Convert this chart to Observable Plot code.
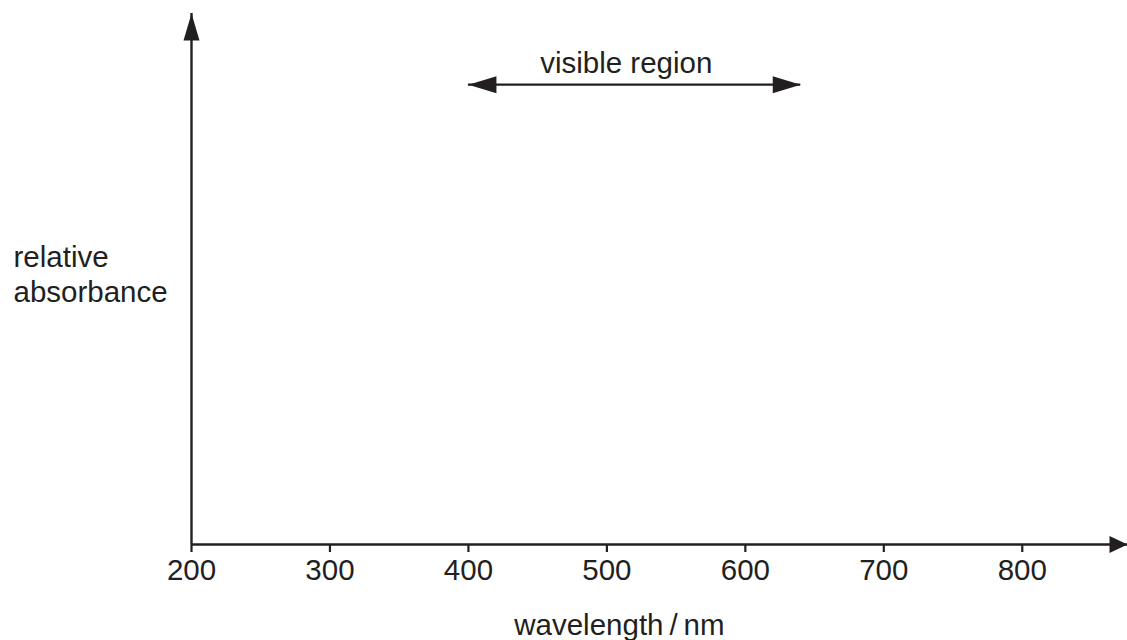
<!DOCTYPE html>
<html>
<head>
<meta charset="utf-8">
<script src="https://cdn.jsdelivr.net/npm/d3@7"></script>
<script src="https://cdn.jsdelivr.net/npm/@observablehq/plot@0.6"></script>
<style>
  html, body { margin: 0; padding: 0; background: #fff; }
</style>
</head>
<body>
<div id="chart"></div>
<script>
// ---- data ----
const xTicks = [200, 300, 400, 500, 600, 700, 800];
const xDomain = [200, 876];          // wavelength range of the x axis (arrow tip at the end)
const yDomain = [0, 1];              // relative absorbance (no scale shown)
const visibleRange = [400, 640];     // visible region, nm
const visibleLevel = [0.866];        // height of the visible-region arrow
const xLabel = ["wavelength\u2009/\u2009nm"];
const yLabel = ["relative", "absorbance"];
const visibleLabel = ["visible region"];

// ---- style ----
const ink = "#231f20";
const font = "'Liberation Sans', Arial, Helvetica, sans-serif";
const fs = 29.5;

// filled arrow head symbol, tip at the anchor point (pixel sized)
function arrowHead(dir, L, W) {
  return {
    draw(ctx) {
      const pts = {
        right: [[-L, -W], [-L, W]],
        left: [[L, -W], [L, W]],
        up: [[-W, L], [W, L]]
      }[dir];
      ctx.moveTo(0, 0);
      ctx.lineTo(pts[0][0], pts[0][1]);
      ctx.lineTo(pts[1][0], pts[1][1]);
      ctx.closePath();
    }
  };
}

const xAxisLine = [{y: yDomain[0], x1: xDomain[0], x2: xDomain[1]}];
const yAxisLine = [{x: xDomain[0], y1: yDomain[0], y2: yDomain[1]}];
const visLine = [{y: visibleLevel[0], x1: visibleRange[0], x2: visibleRange[1]}];

const chart = Plot.plot({
  width: 1127,
  height: 640,
  marginLeft: 191,
  marginRight: 0,
  marginTop: 13,
  marginBottom: 96,
  style: {fontFamily: font, fontSize: fs + "px", color: ink, background: "#fff", overflow: "visible"},
  x: {domain: xDomain},
  y: {domain: yDomain, axis: null},
  marks: [
    Plot.axisX({ticks: xTicks, tickSize: 8, tickPadding: 7, fontSize: fs, strokeWidth: 2.2, label: null, stroke: ink, fill: ink}),
    // axes lines
    Plot.ruleY(xAxisLine, {y: "y", x1: "x1", x2: "x2", stroke: ink, strokeWidth: 2.4}),
    Plot.ruleX(yAxisLine, {x: "x", y1: "y1", y2: "y2", stroke: ink, strokeWidth: 2.4}),
    Plot.dot([{x: xDomain[1], y: yDomain[0]}], {x: "x", y: "y", symbol: arrowHead("right", 18, 8.5), fill: ink, stroke: null}),
    Plot.dot([{x: xDomain[0], y: yDomain[1]}], {x: "x", y: "y", symbol: arrowHead("up", 27, 8), fill: ink, stroke: null}),
    // visible region double arrow
    Plot.ruleY(visLine, {y: "y", x1: "x1", x2: "x2", stroke: ink, strokeWidth: 2.4}),
    Plot.dot([{x: visibleRange[0], y: visibleLevel[0]}], {x: "x", y: "y", symbol: arrowHead("left", 28, 8.5), fill: ink, stroke: null}),
    Plot.dot([{x: visibleRange[1], y: visibleLevel[0]}], {x: "x", y: "y", symbol: arrowHead("right", 28, 8.5), fill: ink, stroke: null}),
    // labels
    Plot.text(visibleLabel, {x: 514, y: 0.888, text: d => d, lineAnchor: "bottom", textAnchor: "middle", fontSize: fs, fill: ink}),
    Plot.text([yLabel.join("\n")], {frameAnchor: "left", dx: -178, y: 0.456, text: d => d, lineAnchor: "bottom", textAnchor: "start", lineHeight: 1.19, fontSize: fs, fill: ink}),
    Plot.text(xLabel, {x: 509, y: -0.17, text: d => d, lineAnchor: "bottom", textAnchor: "middle", fontSize: fs, fill: ink})
  ]
});

document.getElementById("chart").appendChild(chart);
</script>
</body>
</html>
